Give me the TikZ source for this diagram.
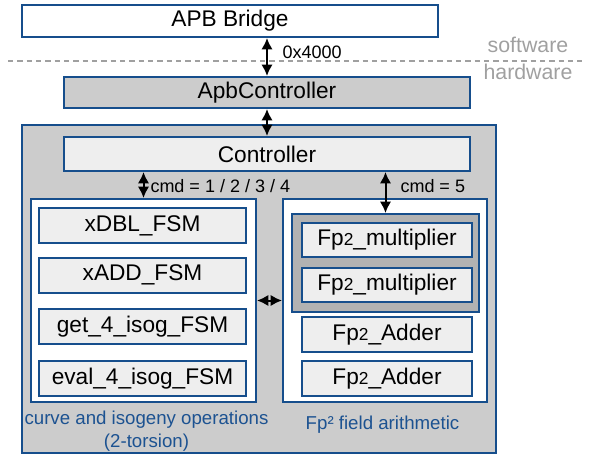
\documentclass[tikz,border=0pt]{standalone}
\usepackage{fontspec}
\setmainfont{Liberation Sans}
\usetikzlibrary{arrows.meta}

\definecolor{edgeblue}{RGB}{22,78,140}
\definecolor{textblue}{RGB}{28,82,145}
\definecolor{fillmid}{RGB}{204,204,204}
\definecolor{filldark}{RGB}{178,178,178}
\definecolor{filllight}{RGB}{238,238,238}
\definecolor{splitgray}{RGB}{160,160,160}

\newcommand{\fptwo}{Fp{\fontsize{13}{13}\selectfont 2}}

\tikzset{every picture/.style={line width=0.75pt}}
\tikzset{
  blockbox/.style={draw=edgeblue, line width=1.5pt, inner sep=0pt, font=\fontsize{17}{20}\selectfont},
  unitbox/.style={blockbox, fill=filllight},
  smalltxt/.style={inner sep=0.75pt, font=\fontsize{13.5}{16}\selectfont},
  grouptxt/.style={inner sep=0.75pt, text=textblue, font=\fontsize{14}{17}\selectfont, align=center},
  busarrow/.style={{Latex[length=8.5pt,width=8.5pt]}-{Latex[length=8.5pt,width=8.5pt]}, line width=1.5pt}
}

\begin{document}
\begin{tikzpicture}[x=0.75pt,y=0.75pt,yscale=-1,xscale=1]
		\useasboundingbox (0,0) rectangle (592,456);
		
		%Shape: Rectangle [APB bridge]
		\node [blockbox, fill=white, minimum width=312pt, minimum height=24pt] (bridge) at (230,21) {APB Bridge};
		%Shape: Rectangle [ApbController]
		\node [blockbox, fill=fillmid, minimum width=304.5pt, minimum height=23.25pt] (apbctrl) at (267,92.5) {ApbController};
		%Shape: Rectangle [outer core]
		\node [blockbox, fill=fillmid, minimum width=355.5pt, minimum height=246pt] (core) at (259,289) {};
		%Shape: Rectangle [Controller]
		\node [unitbox, minimum width=304.5pt, minimum height=25.5pt] (ctrl) at (267,154) {Controller};
		
		%Shape: Rectangle [left panel]
		\node [blockbox, fill=white, minimum width=168.75pt, minimum height=152.25pt] (leftp) at (143.5,300.5) {};
		%Shape: Rectangle [right panel]
		\node [blockbox, fill=white, minimum width=153pt, minimum height=152.25pt] (rightp) at (385,300.5) {};
		
		%Shape: Rectangle [FSMs]
		\node [unitbox, minimum width=155.25pt, minimum height=26.25pt] (xdbl) at (142.5,225.5) {xDBL\_FSM};
		\node [unitbox, minimum width=155.25pt, minimum height=26.25pt] (xadd) at (142.5,275) {xADD\_FSM};
		\node [unitbox, minimum width=155.25pt, minimum height=26.25pt] (getiso) at (142.5,326.5) {get\_4\_isog\_FSM};
		\node [unitbox, minimum width=155.25pt, minimum height=26.25pt] (evaliso) at (142.5,378.5) {eval\_4\_isog\_FSM};
		
		%Shape: Rectangle [multiplier group]
		\node [blockbox, fill=filldark, minimum width=140.25pt, minimum height=73.5pt] (mulgrp) at (385.5,263) {};
		\node [unitbox, minimum width=127.5pt, minimum height=25.5pt] (mulA) at (387,240) {\fptwo\_multiplier};
		\node [unitbox, minimum width=127.5pt, minimum height=25.5pt] (mulB) at (387,284.5) {\fptwo\_multiplier};
		%Shape: Rectangle [adders]
		\node [unitbox, minimum width=127.5pt, minimum height=26.25pt] (addA) at (387,334.5) {\fptwo\_Adder};
		\node [unitbox, minimum width=127.5pt, minimum height=26.25pt] (addB) at (387,378.5) {\fptwo\_Adder};
		
		%software / hardware split
		\coordinate (splitL) at (8,61);
		\coordinate (splitR) at (582,61);
		\draw [splitgray, line width=1.5pt, dash pattern=on 4pt off 3pt] (splitL) -- (splitR);
		\node [text=splitgray, inner sep=0pt, font=\fontsize{16}{19}\selectfont] (swlbl) at (528,45) {software};
		\node [text=splitgray, inner sep=0pt, font=\fontsize{16}{19}\selectfont] (hwlbl) at (528,72) {hardware};
		
		%buses
		\draw [busarrow] (apbctrl.north |- bridge.south) -- (apbctrl.north);
		\draw [busarrow] (apbctrl.south) -- (ctrl.north);
		\draw [busarrow] (leftp.north |- ctrl.south) -- (leftp.north);
		\draw [busarrow] (mulgrp.north |- ctrl.south) -- (mulgrp.north);
		\draw [busarrow] (leftp.east) -- (rightp.west);
		
		\node [smalltxt, anchor=west] (addrlbl) at (281,52) {0x4000};
		\node [smalltxt, anchor=west] (cmdA) at (149,186) {cmd = 1 / 2 / 3 / 4};
		\node [smalltxt, anchor=west] (cmdB) at (399,186) {cmd = 5};
		
		\node [grouptxt] (curvelbl) at (146.5,431) {curve and isogeny operations\\(2-torsion)};
		\node [grouptxt] (fieldlbl) at (382.5,425) {Fp² field arithmetic};
		
	\end{tikzpicture}
\end{document}
